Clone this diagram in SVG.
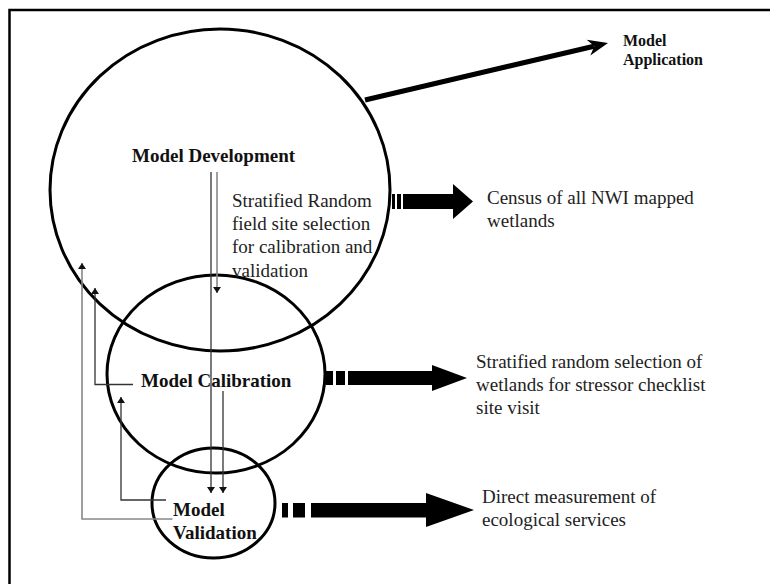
<svg xmlns="http://www.w3.org/2000/svg" width="770" height="584" viewBox="0 0 770 584">
<style>
  .node { fill: none; stroke: #000; stroke-width: 3; }
  .thin { fill: none; stroke: #333; stroke-width: 1.3; }
  .gray { fill: none; stroke: #888; stroke-width: 1.6; }
</style>
<defs>
  <marker id="ah" markerWidth="6" markerHeight="8" refX="6" refY="4" orient="auto" markerUnits="userSpaceOnUse">
    <path d="M0,0 L6,4 L0,8 Z" fill="#111"/>
  </marker>
</defs>
<rect width="770" height="584" fill="#fff"/>
<path d="M9.5,584 V10 H770" fill="none" stroke="#000" stroke-width="2.5"/>

<g font-family="Liberation Serif, Times New Roman, serif">
<g id="model-development">
  <ellipse class="node" cx="220" cy="190" rx="170" ry="161"/>
  <text x="132" y="162" font-size="19" font-weight="bold" fill="#111">Model Development</text>
</g>
<g id="model-calibration">
  <ellipse class="node" cx="216" cy="374" rx="109" ry="99"/>
  <text x="141" y="387" font-size="19" font-weight="bold" fill="#111">Model Calibration</text>
</g>
<g id="model-validation">
  <ellipse class="node" cx="213.5" cy="503" rx="61.5" ry="55"/>
  <text font-size="19" font-weight="bold" fill="#111"><tspan x="173" y="516">Model</tspan><tspan x="173" y="539">Validation</tspan></text>
</g>
<g id="model-application">
  <text font-size="16" font-weight="bold" fill="#111"><tspan x="623" y="46">Model</tspan><tspan x="623" y="65">Application</tspan></text>
</g>
<g id="census">
  <text font-size="19" fill="#222"><tspan x="487" y="204">Census of all NWI mapped</tspan><tspan x="487" y="227">wetlands</tspan></text>
</g>
<g id="stratified-selection">
  <text font-size="19" fill="#222"><tspan x="476" y="368">Stratified random selection of</tspan><tspan x="476" y="391">wetlands for stressor checklist</tspan><tspan x="476" y="414">site visit</tspan></text>
</g>
<g id="direct-measurement">
  <text font-size="19" fill="#222"><tspan x="482" y="503">Direct measurement of</tspan><tspan x="482" y="526">ecological services</tspan></text>
</g>
<g id="field-site-label">
  <text font-size="19" fill="#222"><tspan x="232" y="207">Stratified Random</tspan><tspan x="232" y="230">field site selection</tspan><tspan x="232" y="253">for calibration and</tspan><tspan x="232" y="277">validation</tspan></text>
</g>
</g>

<g id="connectors">
  <line x1="365" y1="100" x2="594" y2="46.2" stroke="#000" stroke-width="5"/>
  <path d="M608,43 L586.7,39.8 L594.4,46.2 L590.3,55.4 Z" fill="#000"/>

  <rect x="392" y="194" width="3" height="15" fill="#000"/>
  <rect x="397" y="194" width="4" height="15" fill="#000"/>
  <path d="M403,194 H453 V184 L473,201.5 L453,219 V209 H403 Z" fill="#000"/>

  <rect x="326" y="371" width="7" height="14" fill="#000"/>
  <rect x="336" y="371" width="9" height="14" fill="#000"/>
  <path d="M348,371 H432 V365 L467,378 L432,391 V385 H348 Z" fill="#000"/>

  <rect x="282" y="503" width="6" height="14.5" fill="#000"/>
  <rect x="293" y="503" width="12" height="14.5" fill="#000"/>
  <path d="M311,503 H426 V493 L474,510 L426,527 V517.5 H311 Z" fill="#000"/>

  <line class="thin" x1="211" y1="172" x2="211" y2="493" marker-end="url(#ah)"/>
  <line class="gray" x1="217" y1="172" x2="217" y2="293" marker-end="url(#ah)"/>
  <line class="thin" x1="223" y1="391" x2="223" y2="493" marker-end="url(#ah)"/>

  <polyline class="thin" points="133,384.5 95,384.5 95,288" marker-end="url(#ah)"/>
  <polyline class="gray" points="172.5,519 82,519 82,263" marker-end="url(#ah)"/>
  <polyline class="thin" points="166,500 121,500 121,397" marker-end="url(#ah)"/>
</g>
</svg>
